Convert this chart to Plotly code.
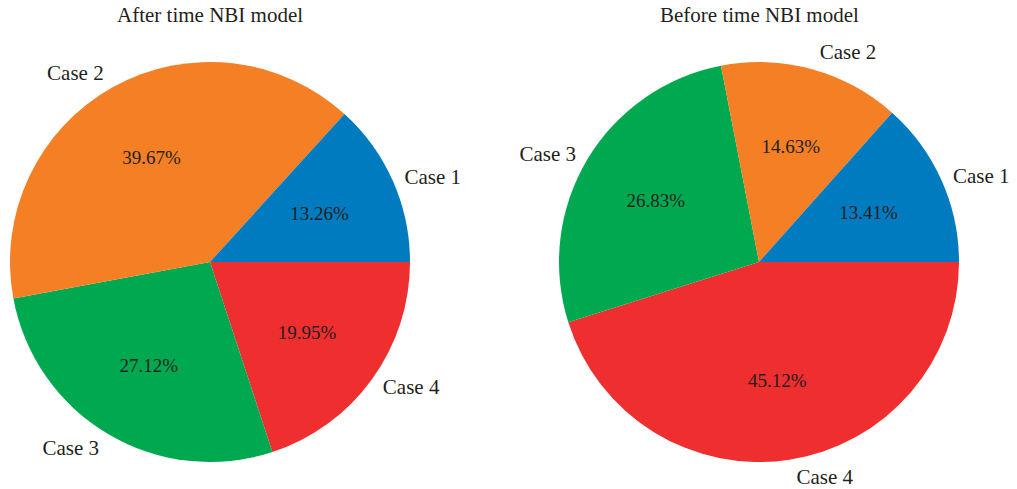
import plotly.graph_objects as go

categories = ["Case 1", "Case 2", "Case 3", "Case 4"]
after_values = [13.26, 39.67, 27.12, 19.95]
before_values = [13.41, 14.63, 26.83, 45.12]
titles = ["After time NBI model", "Before time NBI model"]
colors = ["#007bbf", "#f47f24", "#00a84f", "#ee2e2f"]

W, H = 1017, 489
FONT = "Liberation Serif"
TXT = "#231f20"
CLEAR = ["rgba(0,0,0,0)"] * 4

def dom(cx, cy, r):
    return dict(x=[(cx - r) / W, (cx + r) / W], y=[(H - cy - r) / H, (H - cy + r) / H])

centers = [(210, 262), (759, 262)]
R = 200

# Slices drawn clockwise from 3 o'clock in reversed order == counterclockwise from 3 o'clock
labs_r = categories[::-1]
cols_r = colors[::-1]

fig = go.Figure()
for vals, (cx, cy) in zip([after_values, before_values], centers):
    vals_r = vals[::-1]
    common = dict(labels=labs_r, values=vals_r, sort=False, direction="clockwise",
                  rotation=90, automargin=False, showlegend=False, hoverinfo="skip")
    # coloured wedges
    fig.add_trace(go.Pie(
        domain=dom(cx, cy, R), marker=dict(colors=cols_r, line=dict(width=0)),
        textinfo="none", **common))
    # transparent, slightly larger pie carrying the outside case labels
    fig.add_trace(go.Pie(
        domain=dom(cx, cy, 1.03 * R), marker=dict(colors=CLEAR, line=dict(width=0)),
        texttemplate="%{label}", textposition="outside",
        outsidetextfont=dict(family=FONT, size=21, color=TXT), **common))
    # transparent ring carrying the percentage text around 0.6 R
    fig.add_trace(go.Pie(
        domain=dom(cx, cy, 0.8 * R), hole=0.5, marker=dict(colors=CLEAR, line=dict(width=0)),
        texttemplate="%{value:.2f}%", textposition="inside",
        insidetextorientation="horizontal",
        insidetextfont=dict(family=FONT, size=19, color=TXT), **common))

for t, (cx, cy) in zip(titles, centers):
    fig.add_annotation(text=t, x=cx / W, y=1 - 15 / H,
                       xref="paper", yref="paper", showarrow=False,
                       xanchor="center", yanchor="middle",
                       font=dict(family=FONT, size=21, color=TXT))

fig.update_layout(width=W, height=H,
                  margin=dict(l=0, r=0, t=0, b=0, pad=0, autoexpand=False),
                  paper_bgcolor="white", plot_bgcolor="white")
fig.write_html("out.html", config={"displayModeBar": False},
               post_script="document.body.style.margin='0';document.body.style.overflow='hidden';")
